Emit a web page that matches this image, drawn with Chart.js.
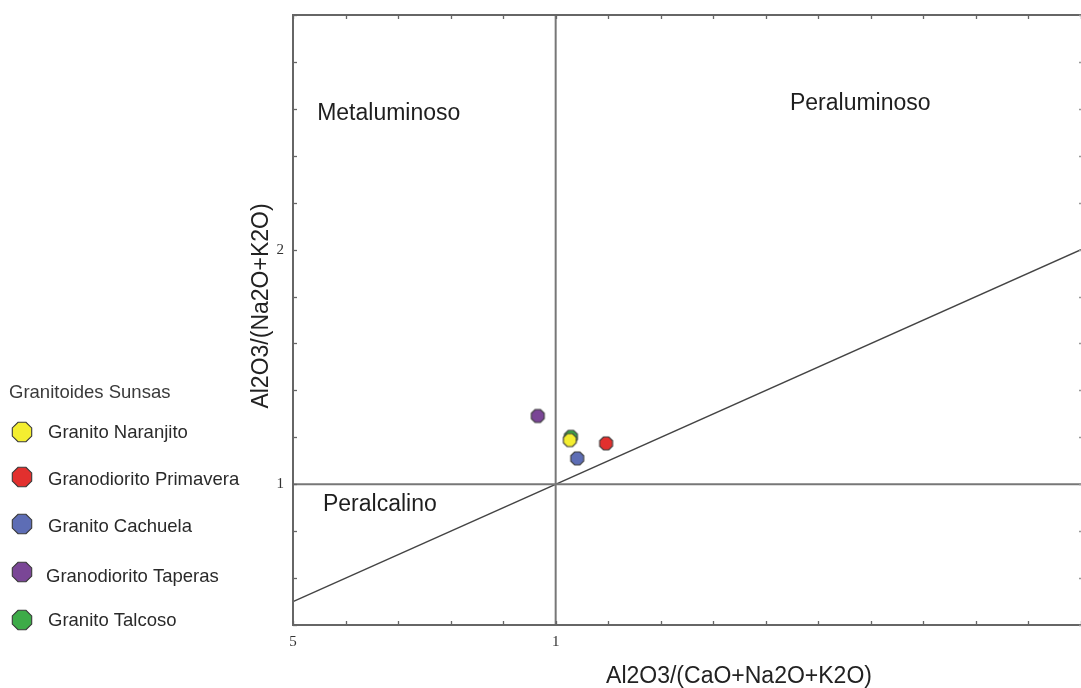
<!DOCTYPE html>
<html>
<head>
<meta charset="utf-8">
<script src="https://cdn.jsdelivr.net/npm/chart.js@4.4.0/dist/chart.umd.min.js"></script>
<style>
  html, body { margin: 0; padding: 0; background: #fff; }
  #wrap { width: 1081px; height: 688px; position: relative; }
</style>
</head>
<body>
<div id="wrap"><canvas id="c" width="1081" height="688"></canvas></div>
<script>
// ---------- DATA ----------
const seriesNames = ["Granito Naranjito", "Granodiorito Primavera", "Granito Cachuela", "Granodiorito Taperas", "Granito Talcoso"];
const seriesColors = ["#f4ee30", "#e2302e", "#5d6db5", "#7a4696", "#3dab48"];
const acnk = [1.027, 1.096, 1.041, 0.966, 1.029];   // Al2O3/(CaO+Na2O+K2O)
const ank  = [1.188, 1.174, 1.110, 1.291, 1.202];   // Al2O3/(Na2O+K2O)
const xTicks = [0.5, 0.6, 0.7, 0.8, 0.9, 1.0, 1.1, 1.2, 1.3, 1.4, 1.5, 1.6, 1.7, 1.8, 1.9, 2.0];
const yTicks = [0.4, 0.6, 0.8, 1.0, 1.2, 1.4, 1.6, 1.8, 2.0, 2.2, 2.4, 2.6, 2.8, 3.0];
const xTickLabels = { 0.5: "5", 1: "1" };
const yTickLabels = { 1: "1", 2: "2" };
const fieldNames = ["Metaluminoso", "Peraluminoso", "Peralcalino"];
const fieldAnchors = [[0.546, 2.578], [1.446, 2.620], [0.557, 0.911]];
const boundaryA = [[0.5, 1], [2.0, 1]];       // A/NK = 1
const boundaryB = [[1, 0.4], [1, 3.0]];       // A/CNK = 1
const boundaryC = [[0.5, 0.5], [2.0, 2.0]];   // A/NK = A/CNK
const xTitle = "Al2O3/(CaO+Na2O+K2O)";
const yTitle = "Al2O3/(Na2O+K2O)";
const legendTitle = "Granitoides Sunsas";

// ---------- helpers ----------
function octagon(color, r) {
  const s = Math.ceil(2 * r + 3);
  const cv = document.createElement('canvas');
  cv.width = s; cv.height = s;
  const g = cv.getContext('2d');
  const c = s / 2;
  g.beginPath();
  for (let i = 0; i < 8; i++) {
    const a = Math.PI / 8 + i * Math.PI / 4;
    const px = c + r * Math.cos(a), py = c + r * Math.sin(a);
    if (i === 0) g.moveTo(px, py); else g.lineTo(px, py);
  }
  g.closePath();
  g.fillStyle = color; g.fill();
  g.lineWidth = 1.1; g.strokeStyle = '#3a3a3a'; g.stroke();
  return cv;
}
const toPts = arr => arr.map(p => ({ x: p[0], y: p[1] }));

const pointSets = seriesNames.map((n, i) => ({
  label: n,
  data: [{ x: acnk[i], y: ank[i] }],
  pointStyle: octagon(seriesColors[i], 7),
  pointRadius: 7,
  backgroundColor: seriesColors[i],
  borderColor: '#3a3a3a',
  order: 0,
  isSeries: true
}));
const lineSet = (d, w, col) => ({
  label: '', data: toPts(d), showLine: true, pointRadius: 0,
  borderColor: col, borderWidth: w, order: 10, isSeries: false, clip: false
});

const decor = {
  id: 'decor',
  afterDatasetsDraw(chart) {
    const { ctx, chartArea: a, scales: { x, y } } = chart;
    ctx.save();
    // frame (left, top, bottom; right edge falls on the page border)
    ctx.strokeStyle = '#666'; ctx.lineWidth = 2;
    ctx.beginPath();
    ctx.moveTo(a.right, a.top); ctx.lineTo(a.left, a.top);
    ctx.lineTo(a.left, a.bottom); ctx.lineTo(a.right, a.bottom);
    ctx.stroke();
    // inward ticks
    ctx.lineWidth = 1.3; ctx.strokeStyle = '#666';
    const tl = 4;
    xTicks.forEach(v => {
      const px = Math.round(x.getPixelForValue(v)) + 0.5;
      ctx.beginPath();
      ctx.moveTo(px, a.bottom); ctx.lineTo(px, a.bottom - tl);
      ctx.moveTo(px, a.top); ctx.lineTo(px, a.top + tl);
      ctx.stroke();
    });
    ctx.strokeStyle = '#999';
    yTicks.forEach(v => {
      const py = Math.round(y.getPixelForValue(v)) + 0.5;
      ctx.beginPath();
      ctx.moveTo(a.right, py); ctx.lineTo(a.right - 2, py);
      ctx.stroke();
    });
    ctx.strokeStyle = '#666';
    yTicks.forEach(v => {
      const py = Math.round(y.getPixelForValue(v)) + 0.5;
      ctx.beginPath();
      ctx.moveTo(a.left, py); ctx.lineTo(a.left + tl, py);
      ctx.stroke();
    });
    // tick labels
    ctx.fillStyle = '#333';
    ctx.font = '15px "Liberation Serif", "DejaVu Serif", serif';
    ctx.textAlign = 'center'; ctx.textBaseline = 'middle';
    Object.keys(xTickLabels).forEach(k => {
      ctx.fillText(xTickLabels[k], x.getPixelForValue(+k), a.bottom + 17);
    });
    ctx.textAlign = 'right';
    Object.keys(yTickLabels).forEach(k => {
      ctx.fillText(yTickLabels[k], a.left - 9, y.getPixelForValue(+k));
    });
    // field names
    ctx.fillStyle = '#1e1e1e';
    ctx.font = '23px "Liberation Sans", Arial, sans-serif';
    ctx.textAlign = 'left'; ctx.textBaseline = 'middle';
    fieldNames.forEach((n, i) => {
      ctx.fillText(n, x.getPixelForValue(fieldAnchors[i][0]), y.getPixelForValue(fieldAnchors[i][1]));
    });
    // axis titles
    ctx.fillStyle = '#222';
    ctx.font = '23px "Liberation Sans", Arial, sans-serif';
    ctx.textAlign = 'center';
    ctx.fillText(xTitle, 739, 677);
    ctx.save();
    ctx.translate(262, 306);
    ctx.rotate(-Math.PI / 2);
    ctx.fillText(yTitle, 0, 0);
    ctx.restore();
    // legend
    ctx.fillStyle = '#3a3a3a';
    ctx.font = '18.5px "Liberation Sans", Arial, sans-serif';
    ctx.textAlign = 'left';
    ctx.fillText(legendTitle, 9, 393);
    const markY = [432, 477, 524, 572, 620];
    const textY = [433, 480, 527, 577, 621];
    ctx.fillStyle = '#2a2a2a';
    chart.data.datasets.filter(d => d.isSeries).forEach((d, i) => {
      const m = octagon(d.backgroundColor, 10.5);
      ctx.drawImage(m, 22 - m.width / 2, markY[i] - m.height / 2);
      ctx.fillText(d.label, i === 3 ? 46 : 48, textY[i]);
    });
    ctx.restore();
  }
};

new Chart(document.getElementById('c'), {
  type: 'scatter',
  data: {
    datasets: [
      ...pointSets,
      lineSet(boundaryA, 2, '#777'),
      lineSet(boundaryB, 2, '#777'),
      lineSet(boundaryC, 1.4, '#444')
    ]
  },
  options: {
    responsive: false,
    animation: false,
    devicePixelRatio: 1,
    layout: { autoPadding: false, padding: { left: 293, right: 0, top: 15, bottom: 63 } },
    plugins: { legend: { display: false }, tooltip: { enabled: false } },
    scales: {
      x: { type: 'linear', min: 0.5, max: 2.0, display: false },
      y: { type: 'linear', min: 0.4, max: 3.0, display: false }
    }
  },
  plugins: [decor]
});
</script>
</body>
</html>
